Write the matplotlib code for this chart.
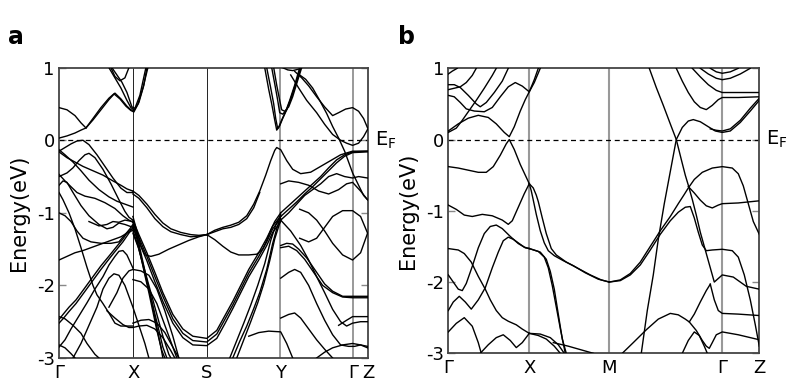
import matplotlib
matplotlib.use("Agg")
import matplotlib.pyplot as plt

plt.rcParams['font.family'] = ['DejaVu Sans']
plt.rcParams['axes.unicode_minus'] = False
plt.rcParams['mathtext.default'] = 'regular'

# high symmetry points (path distance)
a_kticks = [0, 74.3, 147.7, 221.7, 294.3, 309.3]
a_klabels = ['Γ', 'X', 'S', 'Y', 'Γ', 'Z']
b_kticks = [0, 81, 161, 273.7, 311]
b_klabels = ['Γ', 'X', 'M', 'Γ', 'Z']
energy_ticks = [1, 0, -1, -2, -3]

# ---------------- panel a bands (k, E) ----------------
a_gx_bands = [
    [(0, 0.45), (8, 0.42), (16, 0.34), (22, 0.24), (27, 0.17), (34, 0.28), (42, 0.42), (50, 0.56), (56, 0.65),
     (62, 0.57), (68, 0.47), (72, 0.42), (75, 0.41), (79, 0.5), (84, 0.72), (89, 1.0)],
    [(27, 0.17), (34, 0.3), (42, 0.45), (50, 0.58), (55, 0.64), (61, 0.57), (67, 0.47), (72, 0.41), (75, 0.39),
     (80, 0.52), (85, 0.76), (88, 1.0)],
    [(50, 1.0), (56, 0.86), (62, 0.72), (68, 0.55), (72, 0.45), (75, 0.42)],
    [(53, 1.0), (58, 0.9), (63, 0.8), (68, 0.66), (73, 0.46), (76, 0.44), (81, 0.62), (87, 1.0)],
    [(52, 1.0), (56, 0.88), (61, 0.82), (66, 0.86), (70, 1.0)],
    [(0, 0.03), (8, 0.06), (16, 0.1), (22, 0.14), (27, 0.17)],
    [(0, -0.16), (8, -0.24), (16, -0.3), (24, -0.36), (34, -0.42), (44, -0.48), (54, -0.56), (62, -0.62),
     (68, -0.67), (74, -0.70)],
    [(0, -0.13), (6, -0.2), (14, -0.3), (22, -0.42), (30, -0.55), (40, -0.68), (50, -0.78), (58, -0.84),
     (66, -0.88), (74, -0.92)],
    [(0, -0.15), (6, -0.1), (12, -0.05), (18, -0.01), (24, 0.0), (30, -0.06), (38, -0.2), (46, -0.36),
     (54, -0.52), (62, -0.66), (68, -0.72), (74, -0.72)],
    [(0, -0.5), (8, -0.45), (14, -0.38), (20, -0.28), (26, -0.2), (30, -0.18), (36, -0.24), (44, -0.4),
     (52, -0.6), (60, -0.82), (66, -0.98), (70, -1.06), (74, -1.1)],
    [(0, -0.47), (6, -0.56), (12, -0.64), (18, -0.72), (26, -0.77), (36, -0.8), (46, -0.86), (56, -0.94),
     (64, -1.04), (70, -1.1), (74, -1.13)],
    [(0, -0.62), (4, -0.56), (8, -0.58), (14, -0.72), (22, -0.9), (30, -1.04), (40, -1.16), (48, -1.22),
     (54, -1.2), (60, -1.14), (66, -1.16), (74, -1.2)],
    [(30, -1.12), (40, -1.18), (48, -1.16), (54, -1.12), (60, -1.13), (66, -1.1), (74, -1.12)],
    [(0, -0.72), (4, -0.82), (10, -1.0), (16, -1.22), (22, -1.48), (28, -1.75), (34, -2.0), (38, -2.13),
     (44, -2.25), (50, -2.38), (56, -2.52), (62, -2.56), (68, -2.56), (74, -2.56)],
    [(0, -1.0), (6, -1.04), (12, -1.12), (18, -1.25), (24, -1.35), (32, -1.4), (42, -1.42), (52, -1.42),
     (60, -1.4), (66, -1.3), (70, -1.24), (74, -1.22)],
    [(0, -1.65), (8, -1.6), (16, -1.55), (24, -1.52), (34, -1.47), (44, -1.42), (54, -1.37), (62, -1.33),
     (68, -1.28), (74, -1.24)],
    [(0, -2.47), (4, -2.4), (10, -2.3), (17, -2.2), (25, -2.05), (34, -1.88), (42, -1.73), (51, -1.58),
     (58, -1.46), (64, -1.36), (70, -1.24), (74, -1.16)],
    [(0, -2.52), (4, -2.46), (10, -2.36), (17, -2.25), (25, -2.1), (34, -1.93), (42, -1.78), (51, -1.62),
     (58, -1.5), (64, -1.4), (70, -1.28), (74, -1.2)],
    [(0, -2.85), (6, -2.75), (12, -2.6), (20, -2.42), (28, -2.24), (36, -2.05), (44, -1.88), (50, -1.72),
     (56, -1.6), (60, -1.53), (64, -1.52), (68, -1.58), (74, -1.76)],
    [(14, -3.0), (22, -2.8), (30, -2.55), (38, -2.3), (44, -2.05), (50, -1.9), (55, -1.84), (60, -1.86),
     (66, -2.0), (74, -2.3), (80, -2.55), (86, -2.8), (90, -3.0)],
    [(50, -2.3), (58, -2.1), (64, -1.9), (70, -1.8), (74, -1.78)],
    [(0, -2.43), (6, -2.46), (14, -2.55), (22, -2.66), (28, -2.8), (36, -2.95), (40, -3.0)],
    [(0, -2.82), (6, -2.86), (12, -2.94), (16, -3.0)],
    [(48, -2.35), (56, -2.45), (64, -2.54), (70, -2.58), (74, -2.58), (80, -2.56), (88, -2.55), (96, -2.6),
     (104, -2.72), (112, -2.9), (116, -3.0)],
    [(74, -2.52), (82, -2.48), (90, -2.47), (98, -2.52), (106, -2.65), (114, -2.85), (120, -3.0)],
]

a_xs_bands = [
    [(74, -0.70), (80, -0.76), (88, -0.88), (96, -1.02), (104, -1.14), (112, -1.22), (122, -1.27),
     (132, -1.3), (140, -1.31), (148, -1.30)],
    [(74, -0.74), (80, -0.8), (88, -0.93), (96, -1.08), (104, -1.19), (112, -1.26), (122, -1.3),
     (132, -1.33), (140, -1.32), (148, -1.30)],
    [(74, -1.05), (78, -1.25), (82, -1.45), (86, -1.58), (92, -1.6), (100, -1.57), (110, -1.5), (120, -1.44),
     (130, -1.38), (140, -1.33), (148, -1.30)],
    [(74, -1.10), (80, -1.3), (88, -1.55), (96, -1.82), (104, -2.1), (114, -2.4), (124, -2.6), (134, -2.7),
     (148, -2.73), (158, -2.62), (166, -2.42), (174, -2.22), (182, -2.0), (190, -1.78), (200, -1.55),
     (208, -1.35), (214, -1.18), (222, -1.05)],
    [(74, -1.13), (80, -1.34), (88, -1.6), (96, -1.88), (104, -2.15), (114, -2.46), (124, -2.66),
     (134, -2.76), (148, -2.78), (158, -2.67), (166, -2.47), (174, -2.27), (182, -2.05), (190, -1.83),
     (200, -1.6), (208, -1.4), (214, -1.22), (222, -1.08)],
    [(74, -1.18), (80, -1.4), (88, -1.66), (96, -1.95), (104, -2.22), (114, -2.52), (124, -2.72),
     (134, -2.82), (148, -2.83), (158, -2.73), (166, -2.53), (174, -2.32), (182, -2.1), (190, -1.88),
     (200, -1.65), (208, -1.45), (214, -1.27), (222, -1.12)],
    [(74, -1.12), (78, -1.3), (82, -1.55), (86, -1.8), (90, -2.05), (94, -2.3), (98, -2.58), (102, -2.85),
     (104, -3.0)],
    [(74, -1.18), (78, -1.36), (82, -1.6), (86, -1.86), (90, -2.1), (94, -2.36), (98, -2.62), (103, -2.9),
     (106, -3.0)],
    [(74, -1.24), (79, -1.45), (84, -1.72), (89, -2.0), (94, -2.28), (99, -2.56), (104, -2.85), (108, -3.0)],
    [(74, -1.28), (80, -1.5), (86, -1.8), (92, -2.1), (98, -2.4), (104, -2.7), (110, -2.95), (112, -3.0)],
    [(74, -1.78), (82, -1.8), (90, -1.86), (98, -2.05), (106, -2.35), (114, -2.7), (120, -3.0)],
    [(74, -1.92), (82, -1.95), (90, -2.05), (98, -2.25), (106, -2.55), (114, -2.85), (118, -3.0)],
]

a_sy_bands = [
    [(148, -1.30), (156, -1.24), (164, -1.2), (172, -1.17), (180, -1.13), (188, -1.04), (195, -0.88),
     (201, -0.7), (207, -0.48), (212, -0.28), (216, -0.14), (218, -0.10), (222, -0.13), (228, -0.28),
     (234, -0.4), (242, -0.46), (252, -0.44), (262, -0.36), (272, -0.28), (282, -0.2), (294, -0.15),
     (309, -0.15)],
    [(148, -1.30), (156, -1.26), (164, -1.22), (172, -1.2), (180, -1.16), (188, -1.08), (195, -0.93),
     (201, -0.72)],
    [(148, -1.30), (156, -1.37), (164, -1.46), (172, -1.54), (180, -1.58), (190, -1.58), (198, -1.57),
     (204, -1.5), (208, -1.38), (212, -1.24), (216, -1.12), (222, -1.0)],
    [(174, -3.0), (181, -2.77), (188, -2.56), (195, -2.32), (201, -2.1), (208, -1.78), (214, -1.42),
     (218, -1.22), (222, -1.05)],
    [(171, -3.0), (178, -2.76), (185, -2.52), (192, -2.27), (199, -2.0), (206, -1.7), (212, -1.38),
     (217, -1.17), (222, -1.02)],
    [(178, -3.0), (185, -2.75), (192, -2.5), (199, -2.24), (205, -1.98), (211, -1.66), (216, -1.36),
     (222, -1.1)],
]

a_yg_bands = [
    [(206, 1.0), (210, 0.7), (213, 0.5), (216, 0.28), (218, 0.14), (220, 0.18), (223, 0.28), (227, 0.4),
     (231, 0.55), (236, 0.76), (241, 1.0)],
    [(208, 1.0), (212, 0.72), (215, 0.5), (217, 0.3), (219, 0.16), (221, 0.2), (224, 0.3), (228, 0.42),
     (232, 0.57), (237, 0.78), (242, 1.0)],
    [(213, 1.0), (216, 0.78), (219, 0.55), (221, 0.38), (224, 0.36), (228, 0.42), (232, 0.56), (236, 0.72),
     (240, 0.9), (242, 1.0)],
    [(215, 1.0), (218, 0.76), (221, 0.55), (223, 0.42), (226, 0.4), (230, 0.46), (234, 0.6), (238, 0.78),
     (243, 1.0)],
    [(224, 1.0), (229, 0.97), (234, 0.96), (240, 0.98), (243, 1.0)],
    [(236, 0.95), (243, 0.86), (250, 0.75), (258, 0.6), (266, 0.46), (274, 0.34), (280, 0.38), (287, 0.43),
     (294, 0.45), (300, 0.4), (305, 0.3), (309, 0.17)],
    [(241, 0.9), (247, 0.84), (254, 0.72), (261, 0.55), (268, 0.37), (274, 0.19), (280, 0.03), (286, -0.15),
     (294, -0.45), (300, -0.62), (305, -0.76), (309, -0.82)],
    [(232, 0.9), (240, 0.72), (248, 0.55), (258, 0.38), (266, 0.22), (274, 0.08), (282, 0.0), (288, -0.04),
     (294, -0.07), (300, -0.04), (305, 0.05), (309, 0.15)],
    [(222, -1.0), (230, -0.9), (238, -0.8), (246, -0.7), (254, -0.6), (262, -0.5), (270, -0.38),
     (278, -0.27), (286, -0.2), (294, -0.16), (309, -0.15)],
    [(222, -1.05), (230, -0.95), (238, -0.85), (246, -0.74), (254, -0.64), (262, -0.53), (270, -0.42),
     (278, -0.31), (286, -0.22), (294, -0.17), (309, -0.16)],
    [(222, -1.1), (230, -1.0), (238, -0.88), (246, -0.76), (254, -0.68), (262, -0.6), (270, -0.5),
     (278, -0.46), (286, -0.5), (294, -0.52), (300, -0.5), (309, -0.52)],
    [(222, -0.6), (230, -0.56), (240, -0.58), (250, -0.62), (260, -0.7), (270, -0.74), (280, -0.68),
     (288, -0.6), (294, -0.58), (302, -0.7), (309, -0.82)],
    [(241, -1.35), (250, -1.4), (258, -1.35), (266, -1.2), (274, -1.05), (284, -0.97), (294, -0.97),
     (302, -1.05), (309, -1.28)],
    [(241, -0.95), (250, -1.0), (258, -1.1), (266, -1.25), (274, -1.42), (284, -1.58), (294, -1.65),
     (302, -1.55), (309, -1.28)],
    [(222, -1.45), (228, -1.42), (234, -1.43), (240, -1.5), (248, -1.62), (256, -1.78), (266, -1.98),
     (274, -2.08), (284, -2.15), (294, -2.15), (309, -2.15)],
    [(222, -1.48), (230, -1.46), (238, -1.52), (246, -1.64), (254, -1.8), (264, -2.0), (274, -2.1),
     (284, -2.16), (294, -2.17), (309, -2.17)],
    [(222, -1.9), (230, -1.82), (236, -1.78), (242, -1.82), (250, -2.0), (258, -2.25), (266, -2.48),
     (274, -2.68), (282, -2.82), (290, -2.84), (296, -2.84), (302, -2.82), (309, -2.86)],
    [(222, -2.45), (230, -2.4), (236, -2.38), (242, -2.45), (250, -2.6), (258, -2.75), (266, -2.88),
     (274, -3.0)],
    [(190, -2.7), (200, -2.65), (210, -2.63), (222, -2.64), (228, -2.8), (234, -3.0)],
    [(258, -3.0), (266, -2.92), (274, -2.86), (284, -2.82), (294, -2.8), (302, -2.82), (309, -2.84)],
    [(222, -1.1), (232, -1.25), (242, -1.45), (250, -1.65), (258, -1.88), (266, -2.1), (274, -2.33),
     (282, -2.5), (288, -2.56), (294, -2.52), (302, -2.5), (309, -2.5)],
    [(280, -2.55), (288, -2.48), (294, -2.43), (309, -2.43)],
]

# ---------------- panel b bands (k, E) ----------------
b_gx_bands = [
    [(0, 0.92), (4, 0.96), (9, 1.0)],
    [(0, 0.77), (6, 0.77), (12, 0.73), (20, 0.62), (28, 0.5), (32, 0.46), (38, 0.52), (46, 0.66), (54, 0.82),
     (60, 1.0)],
    [(0, 0.7), (6, 0.72), (12, 0.74), (18, 0.8), (24, 0.9), (28, 1.0)],
    [(0, 0.62), (6, 0.6), (12, 0.52), (18, 0.43), (26, 0.40), (36, 0.39), (44, 0.45), (52, 0.6), (60, 0.74),
     (67, 0.8), (74, 0.75), (81, 0.67), (86, 0.8), (92, 1.0)],
    [(0, 0.12), (10, 0.22), (20, 0.3), (30, 0.34), (40, 0.31), (48, 0.22), (56, 0.1), (61, 0.04), (66, 0.18),
     (72, 0.4), (77, 0.56), (81, 0.67), (86, 0.84), (90, 1.0)],
    [(0, 0.1), (8, 0.16), (14, 0.27), (20, 0.39), (28, 0.55), (36, 0.72), (44, 0.9), (48, 1.0)],
    [(0, -0.38), (10, -0.4), (20, -0.43), (30, -0.46), (38, -0.46), (45, -0.38), (52, -0.22), (58, -0.06),
     (61, 0.0), (66, -0.14), (72, -0.35), (77, -0.5), (81, -0.62)],
    [(0, -0.92), (8, -0.98), (16, -1.06), (24, -1.08), (34, -1.05), (44, -1.07), (54, -1.13), (60, -1.19),
     (64, -1.14), (70, -0.95), (76, -0.76), (81, -0.62)],
    [(0, -1.53), (10, -1.55), (16, -1.6), (23, -1.72), (30, -1.92), (37, -2.1), (42, -2.25), (48, -2.4),
     (54, -2.5), (60, -2.55), (68, -2.6), (74, -2.66), (81, -2.72)],
    [(0, -1.9), (5, -2.0), (10, -2.1), (14, -2.12), (18, -2.02), (24, -1.78), (30, -1.52), (36, -1.32),
     (42, -1.22), (48, -1.2), (54, -1.25), (62, -1.36), (70, -1.46), (76, -1.51), (81, -1.53)],
    [(0, -2.4), (5, -2.28), (11, -2.2), (17, -2.28), (23, -2.38), (30, -2.25), (37, -2.08), (44, -1.8),
     (50, -1.58), (55, -1.42), (60, -1.37), (65, -1.4), (72, -1.47), (77, -1.52), (81, -1.53)],
    [(0, -2.7), (8, -2.58), (16, -2.5), (24, -2.62), (30, -2.85), (33, -3.0)],
    [(32, -3.0), (40, -2.88), (48, -2.78), (55, -2.74), (62, -2.82), (68, -2.92), (74, -2.85), (81, -2.72)],
]

b_xm_bands = [
    [(81, -0.62), (83, -0.72), (85, -0.85), (88, -1.05), (92, -1.28), (96, -1.45), (100, -1.56),
     (106, -1.63), (115, -1.7), (125, -1.77), (137, -1.87), (150, -1.96), (161, -2.0)],
    [(81, -0.62), (85, -0.68), (88, -0.78), (90, -0.87), (94, -1.1), (98, -1.32), (103, -1.53),
     (108, -1.62), (118, -1.72), (130, -1.81), (142, -1.9), (153, -1.97), (161, -2.0)],
    [(81, -1.53), (90, -1.57), (96, -1.65), (100, -1.8), (104, -2.05), (108, -2.35), (112, -2.65),
     (117, -3.0)],
    [(81, -1.53), (92, -1.58), (98, -1.68), (102, -1.85), (106, -2.1), (110, -2.45), (114, -2.8), (118, -3.0)],
    [(81, -2.72), (90, -2.75), (98, -2.8), (106, -2.9), (112, -3.0)],
    [(81, -2.72), (92, -2.73), (102, -2.78), (110, -2.88), (116, -3.0)],
    [(105, -2.85), (120, -2.9), (135, -2.96), (145, -3.0)],
]

b_mz_bands = [
    [(161, -2.0), (172, -1.97), (182, -1.88), (192, -1.72), (202, -1.5), (212, -1.28), (222, -1.08),
     (230, -0.9), (236, -0.77), (240, -0.68), (246, -0.56), (254, -0.46), (264, -0.4), (274, -0.38),
     (284, -0.4), (290, -0.48), (295, -0.65), (300, -0.9), (305, -1.15), (311, -1.33)],
    [(161, -2.0), (172, -1.98), (182, -1.9), (192, -1.76), (202, -1.55), (212, -1.33), (222, -1.14),
     (230, -1.02), (237, -0.95), (242, -0.94), (246, -1.1), (250, -1.3), (254, -1.48), (258, -1.56),
     (264, -1.55), (274, -1.54), (284, -1.56), (290, -1.65), (296, -1.9), (302, -2.25), (307, -2.6),
     (311, -2.9)],
    [(193, -3.0), (199, -2.4), (205, -1.9), (210, -1.4), (216, -0.9), (222, -0.45), (228, 0.0), (234, 0.17),
     (240, 0.26), (245, 0.28), (252, 0.25), (260, 0.18), (267, 0.12), (274, 0.1), (282, 0.12), (292, 0.24),
     (302, 0.4), (311, 0.55)],
    [(262, 0.15), (268, 0.13), (274, 0.12), (282, 0.15), (292, 0.27), (302, 0.44), (311, 0.58)],
    [(201, 1.0), (208, 0.73), (215, 0.48), (222, 0.22), (228, 0.0), (233, -0.28), (237, -0.5), (240, -0.64),
     (244, -0.84), (248, -1.06), (252, -1.3), (256, -1.5), (260, -1.7), (263, -1.85), (266, -2.0),
     (270, -1.95), (274, -1.9), (285, -1.93), (298, -2.06), (311, -2.1)],
    [(240, -0.66), (246, -0.75), (252, -0.85), (258, -0.93), (264, -0.96), (270, -0.92), (274, -0.9),
     (290, -0.89), (311, -0.86)],
    [(174, -3.0), (185, -2.85), (198, -2.67), (210, -2.52), (222, -2.44), (230, -2.46), (237, -2.52),
     (241, -2.56), (246, -2.45), (252, -2.28), (258, -2.12), (262, -2.03)],
    [(262, -2.03), (266, -2.25), (270, -2.4), (274, -2.44), (290, -2.45), (311, -2.47)],
    [(241, -2.56), (248, -2.68), (254, -2.82), (258, -2.9), (261, -2.93), (264, -2.85), (268, -2.74),
     (274, -2.7), (290, -2.74), (311, -2.81)],
    [(234, -3.0), (240, -2.82), (246, -2.7), (251, -2.75), (256, -2.9), (259, -3.0)],
    [(228, 1.0), (234, 0.82), (240, 0.66), (246, 0.53), (252, 0.45), (258, 0.42), (264, 0.48), (270, 0.56),
     (274, 0.59), (290, 0.59), (311, 0.6)],
    [(244, 1.0), (252, 0.88), (260, 0.77), (268, 0.69), (274, 0.66), (290, 0.66), (311, 0.66)],
    [(252, 1.0), (260, 0.92), (268, 0.86), (274, 0.84), (282, 0.86), (292, 0.92), (302, 1.0)],
    [(262, 1.0), (268, 0.95), (274, 0.93), (282, 0.95), (290, 1.0)],
]


def draw_panel(ax, groups, kticks, klabels, vcolors, vwidths):
    for k0, c, w in zip(kticks[1:-1], vcolors, vwidths):
        ax.axvline(k0, color=c, lw=w, zorder=1)
    ax.axhline(0, color='k', lw=0.9, ls=(0, (4, 3)), zorder=2)
    for bands in groups:
        for band in bands:
            ks = [p[0] for p in band]
            es = [p[1] for p in band]
            ax.plot(ks, es, color='k', lw=1.0, zorder=3, solid_joinstyle='round')
    ax.set_xlim(kticks[0], kticks[-1])
    ax.set_ylim(-3, 1)
    ax.set_xticks(kticks)
    ax.set_xticklabels(klabels, fontsize=13)
    ax.set_yticks(energy_ticks)
    ax.set_yticklabels([str(t) for t in energy_ticks], fontsize=13)
    ax.tick_params(axis='x', length=0, pad=4)
    ax.tick_params(axis='y', direction='in', length=5, width=1, color='#888888',
                   left=True, right=True, pad=3)
    for s in ax.spines.values():
        s.set_color('#444444')
        s.set_linewidth(1.3)
    ax.set_ylabel('Energy(eV)', fontsize=15, labelpad=6)
    ax.text(1.022, 0, 'E$_F$', transform=ax.get_yaxis_transform(), fontsize=14,
            va='center', ha='left')


fig = plt.figure(figsize=(7.92, 3.9), dpi=100)
ax_a = fig.add_axes([0.0745, 0.0821, 0.390, 0.7443])
ax_b = fig.add_axes([0.566, 0.0941, 0.3927, 0.7308])

draw_panel(ax_a, [a_gx_bands, a_xs_bands, a_sy_bands, a_yg_bands], a_kticks, a_klabels,
           ['#222222', '#222222', '#999999', '#999999'], [0.7, 0.7, 1.4, 1.4])
draw_panel(ax_b, [b_gx_bands, b_xm_bands, b_mz_bands], b_kticks, b_klabels,
           ['#999999', '#999999', '#999999'], [1.5, 1.5, 1.5])

fig.text(0.010, 0.905, 'a', fontsize=17, fontweight='bold', va='center')
fig.text(0.502, 0.905, 'b', fontsize=17, fontweight='bold', va='center')

fig.savefig('out.png', dpi=100)
